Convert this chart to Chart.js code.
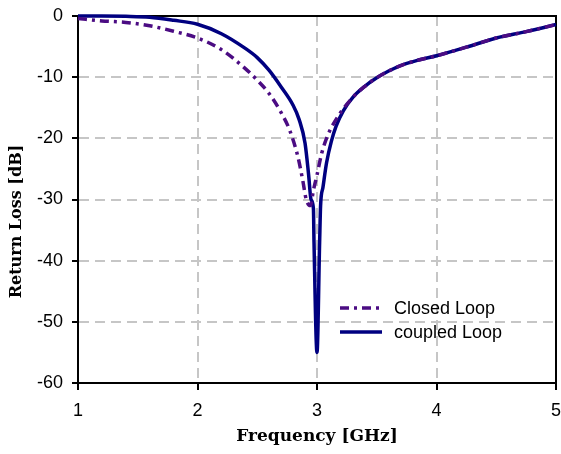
<!DOCTYPE html>
<html>
<head>
<meta charset="utf-8">
<script src="https://cdn.jsdelivr.net/npm/chart.js@4.4.1/dist/chart.umd.min.js"></script>
<style>
  html, body { margin: 0; padding: 0; background: #fff; }
</style>
</head>
<body>
<canvas id="chart" width="561" height="454"></canvas>
<script>
// frequency in GHz, return loss in dB
var closedFreq = [1.0, 1.2, 1.4, 1.6, 1.8, 2.0, 2.2, 2.4, 2.5, 2.6, 2.7, 2.77, 2.84, 2.88, 2.91, 2.945,
  2.97, 3.0, 3.04, 3.09, 3.19, 3.3, 3.4, 3.5, 3.6, 3.7, 3.85, 4.0, 4.25, 4.5, 4.75, 5.0];
var closedLoss = [-0.4, -0.8, -1.05, -1.6, -2.5, -3.6, -5.5, -8.6, -10.5, -12.7, -15.8, -18.6, -23, -26.8, -30, -31,
  -28.5, -26, -22.4, -19.5, -16, -13.3, -11.5, -10.1, -9.0, -8.1, -7.2, -6.5, -5.1, -3.6, -2.55, -1.4];

var coupledFreq = [1.0, 1.2, 1.4, 1.6, 1.8, 2.0, 2.2, 2.4, 2.5, 2.6, 2.7, 2.8, 2.85, 2.9, 2.93, 2.95, 2.97, 2.975,
  3.0, 3.022, 3.03, 3.05, 3.08, 3.12, 3.16, 3.22, 3.3, 3.4, 3.5, 3.6, 3.7, 3.85, 4.0, 4.25, 4.5, 4.75, 5.0];
var coupledLoss = [0, 0, -0.05, -0.2, -0.7, -1.35, -2.9, -5.3, -6.8, -8.9, -11.6, -14.6, -16.9, -20.8, -26, -30, -31.5, -37,
  -55, -37, -31, -28, -24, -20.5, -18, -15.5, -13.3, -11.5, -10.1, -9.0, -8.1, -7.2, -6.5, -5.1, -3.6, -2.55, -1.4];

var seriesNames = ['Closed Loop', 'coupled Loop'];
var freqTicks = [1, 2, 3, 4, 5];
var lossTicks = [0, -10, -20, -30, -40, -50, -60];

function toPoints(xs, ys) {
  return xs.map(function (x, i) { return { x: x, y: ys[i] }; });
}

var sansFont = "'Liberation Sans', Arial, sans-serif";
var titleFont = "'DejaVu Serif', 'Liberation Serif', serif";

var boxPlugin = {
  id: 'box',
  beforeDatasetsDraw: function (chart) {
    var a = chart.chartArea, ctx = chart.ctx;
    ctx.save();
    ctx.strokeStyle = '#000';
    ctx.lineWidth = 2;
    ctx.beginPath();
    ctx.moveTo(a.left, a.top);
    ctx.lineTo(a.right, a.top);
    ctx.lineTo(a.right, a.bottom);
    ctx.stroke();
    ctx.restore();
  },
  afterDraw: function (chart) {
    var a = chart.chartArea, ctx = chart.ctx;
    // y axis title
    ctx.save();
    ctx.translate(17, a.top + (a.bottom - a.top) * 0.56);
    ctx.rotate(-Math.PI / 2);
    ctx.font = 'bold 16px ' + titleFont;
    ctx.fillStyle = '#000';
    ctx.textAlign = 'center';
    ctx.textBaseline = 'middle';
    ctx.fillText('Return Loss [dB]', 0, 0);
    ctx.restore();

    // legend inside the plot
    var lx = a.left + 262, ly = a.top + 292;
    chart.data.datasets.forEach(function (ds, i) {
      var y = ly + i * 24;
      ctx.save();
      ctx.strokeStyle = ds.borderColor;
      ctx.lineWidth = ds.borderWidth;
      ctx.setLineDash(ds.borderDash || []);
      ctx.beginPath();
      ctx.moveTo(lx, y);
      ctx.lineTo(lx + 42, y);
      ctx.stroke();
      ctx.setLineDash([]);
      ctx.font = '18px ' + sansFont;
      ctx.fillStyle = '#000';
      ctx.textBaseline = 'middle';
      ctx.fillText(ds.label, lx + 54, y + 1);
      ctx.restore();
    });
  }
};

new Chart(document.getElementById('chart'), {
  type: 'line',
  data: {
    datasets: [{
      label: seriesNames[0],
      data: toPoints(closedFreq, closedLoss),
      borderColor: '#4b0c83',
      borderWidth: 3.5,
      borderDash: [9, 5, 3, 5],
      pointRadius: 0,
      cubicInterpolationMode: 'monotone',
      clip: false
    }, {
      label: seriesNames[1],
      data: toPoints(coupledFreq, coupledLoss),
      borderColor: '#000080',
      borderWidth: 3.5,
      pointRadius: 0,
      cubicInterpolationMode: 'monotone',
      clip: false
    }]
  },
  options: {
    responsive: false,
    animation: false,
    events: [],
    layout: { padding: { top: 16, right: 5, left: 0, bottom: 0 } },
    plugins: { legend: { display: false }, tooltip: { enabled: false } },
    scales: {
      x: {
        type: 'linear',
        min: 1,
        max: 5,
        afterBuildTicks: function (scale) {
          scale.ticks = freqTicks.map(function (v) { return { value: v }; });
        },
        afterFit: function (scale) {
          scale.height = 71;
          scale.paddingLeft = 0;
          scale.paddingRight = 0;
        },
        grid: { color: '#c6c6c6', lineWidth: 2, tickColor: '#000', tickLength: 7, tickWidth: 2 },
        border: { color: '#000', width: 2, dash: [10, 6] },
        ticks: { color: '#000', font: { family: sansFont, size: 18 }, padding: 10, maxRotation: 0 },
        title: {
          display: true,
          text: 'Frequency [GHz]',
          color: '#000',
          font: { family: titleFont, size: 17, weight: 'bold' },
          padding: { top: 0, bottom: 7 }
        }
      },
      y: {
        type: 'linear',
        min: -60,
        max: 0,
        afterBuildTicks: function (scale) {
          scale.ticks = lossTicks.map(function (v) { return { value: v }; });
        },
        afterFit: function (scale) {
          scale.width = 78;
          scale.paddingTop = 0;
          scale.paddingBottom = 0;
        },
        grid: { color: '#c6c6c6', lineWidth: 2, tickColor: '#000', tickLength: 6, tickWidth: 2 },
        border: { color: '#000', width: 2, dash: [10, 6] },
        ticks: { color: '#000', font: { family: sansFont, size: 18 }, padding: 9 }
      }
    }
  },
  plugins: [boxPlugin]
});
</script>
</body>
</html>
